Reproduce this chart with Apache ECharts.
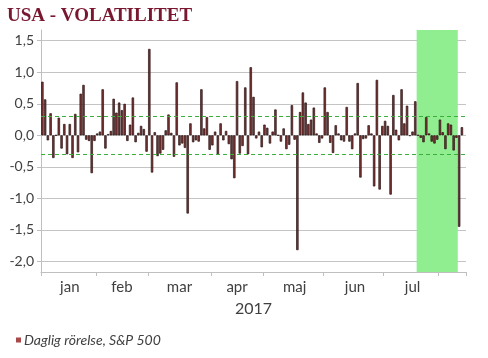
<!DOCTYPE html>
<html>
<head>
<meta charset="utf-8">
<script src="https://cdn.jsdelivr.net/npm/echarts@6/dist/echarts.min.js"></script>
<style>
html,body{margin:0;padding:0;background:#fff;}
#chart{width:488px;height:358px;}
</style>
</head>
<body>
<div id="chart"></div>
<script>
// ---- data (daily change in %, S&P 500, 2017) ----
const monthNames = ['jan', 'feb', 'mar', 'apr', 'maj', 'jun', 'jul', 'aug'];
const monthLabelShown = [true, true, true, true, true, true, true, false];

const janDays = [3,4,5,6,9,10,11,12,13,17,18,19,20,23,24,25,26,27,30,31];
const janVals = [0.85,0.57,-0.08,0.35,-0.36,0.00,0.28,-0.21,0.18,-0.30,0.18,-0.36,0.34,-0.27,0.66,0.80,-0.07,-0.09,-0.60,-0.09];

const febDays = [1,2,3,6,7,8,9,10,13,14,15,16,17,21,22,23,24,27,28];
const febVals = [0.03,0.06,0.73,-0.21,0.02,0.07,0.58,0.36,0.52,0.40,0.50,-0.09,0.17,0.60,-0.11,0.04,0.15,0.10,-0.26];

const marDays = [1,2,3,6,7,8,9,10,13,14,15,16,17,20,21,22,23,24,27,28,29,30,31];
const marVals = [1.37,-0.59,0.05,-0.33,-0.29,-0.23,0.08,0.33,0.04,-0.34,0.84,-0.16,-0.13,-0.20,-1.24,0.19,-0.11,-0.08,-0.10,0.73,0.11,0.29,-0.23];

const aprDays = [3,4,5,6,7,10,11,12,13,17,18,19,20,21,24,25,26,27,28];
const aprVals = [-0.16,0.06,-0.31,0.19,-0.08,0.07,-0.14,-0.38,-0.68,0.86,-0.29,-0.17,0.76,-0.30,1.08,0.61,-0.05,0.06,-0.19];

const majDays = [1,2,3,4,5,8,9,10,11,12,15,16,17,18,19,22,23,24,25,26,30,31];
const majVals = [0.17,0.12,-0.13,0.06,0.41,0.00,-0.10,0.11,-0.22,-0.15,0.48,-0.07,-1.82,0.37,0.68,0.52,0.18,0.25,0.44,0.03,-0.12,-0.05];

const junDays = [1,2,5,6,7,8,9,12,13,14,15,16,19,20,21,22,23,26,27,28,29,30];
const junVals = [0.76,0.37,-0.12,-0.28,0.16,0.03,-0.08,-0.10,0.45,-0.10,-0.22,0.03,0.83,-0.67,-0.06,-0.05,0.16,0.03,-0.81,0.88,-0.86,0.15];

const julDays = [3,5,6,7,10,11,12,13,14,17,18,19,20,21,24,25,26,27,28,31];
const julVals = [0.23,0.15,-0.94,0.64,0.09,-0.08,0.73,0.19,0.47,-0.01,0.06,0.54,0.00,-0.04,-0.11,0.29,0.03,-0.10,-0.13,-0.07];

const augDays = [1,2,3,4,7,8,9,10,11,14];
const augVals = [0.25,0.05,-0.22,0.19,0.17,-0.24,-0.04,-1.45,0.13,null];

// highlighted period (green band) and +/- reference levels
const highlightFrom = '2017-07-20';
const highlightTo = '2017-08-09';
const refLevels = [0.3, -0.3];

const yearLabel = '2017';
const seriesName = 'Daglig rörelse, S&P 500';
const titleText = 'USA - VOLATILITET';

// ---- build category table ----
const monthDays = [janDays, febDays, marDays, aprDays, majDays, junDays, julDays, augDays];
const monthVals = [janVals, febVals, marVals, aprVals, majVals, junVals, julVals, augVals];
const categories = [];
const values = [];
const monthStart = {};   // index -> true at first trading day of month
const labelAt = {};      // index -> month label
monthDays.forEach(function (days, m) {
  const start = categories.length;
  monthStart[start] = true;
  days.forEach(function (d, i) {
    const mm = String(m + 1).padStart(2, '0');
    const dd = String(d).padStart(2, '0');
    categories.push('2017-' + mm + '-' + dd);
    values.push(monthVals[m][i]);
  });
  if (monthLabelShown[m]) {
    labelAt[start + Math.floor(days.length / 2)] = monthNames[m];
  }
});
const hiStart = categories.indexOf(highlightFrom);
const hiEnd = categories.indexOf(highlightTo) + 1;

const FONT = 'Lato, "Open Sans", sans-serif';
const chart = echarts.init(document.getElementById('chart'), null, {renderer: 'canvas'});
chart.setOption({
  animation: false,
  backgroundColor: '#ffffff',
  title: {
    text: titleText,
    left: 7, top: 7, padding: 0,
    textStyle: {fontFamily: '"Liberation Serif", "Times New Roman", serif', fontWeight: 'bold', fontSize: 19, color: '#7a1730'}
  },
  legend: {
    data: [seriesName],
    left: 11, top: 328,
    itemWidth: 5, itemHeight: 5, icon: 'rect',
    itemStyle: {color: '#a84848', borderWidth: 0},
    textStyle: {fontFamily: FONT, fontStyle: 'italic', fontSize: 14, color: '#404040', padding: [0, 0, 0, -2]}
  },
  grid: {left: 41, right: 22, top: 30, bottom: 86, containLabel: false},
  xAxis: [{
    type: 'category',
    data: categories,
    boundaryGap: true,
    axisLine: {show: true, onZero: false, lineStyle: {color: '#bfbfbf', width: 1}},
    axisTick: {
      show: true, length: 4, lineStyle: {color: '#bfbfbf'},
      interval: function (idx) { return !!monthStart[idx]; }
    },
    axisLabel: {
      interval: function (idx) { return labelAt[idx] !== undefined; },
      formatter: function (v, idx) { return labelAt[idx] || ''; },
      fontFamily: FONT, fontSize: 15, color: '#404040', margin: 8
    },
    splitLine: {show: false},
    name: yearLabel,
    nameLocation: 'middle',
    nameGap: 29,
    nameTextStyle: {fontFamily: FONT, fontSize: 16, color: '#404040'}
  }, {
    type: 'value',
    min: 0, max: categories.length,
    show: false
  }],
  yAxis: {
    type: 'value',
    min: -2.167, max: 1.67,
    minInterval: 0.5, maxInterval: 0.5,
    axisLine: {show: true, lineStyle: {color: '#bfbfbf'}},
    axisTick: {show: true, length: 4, lineStyle: {color: '#bfbfbf'}},
    axisLabel: {
      showMinLabel: false, showMaxLabel: false,
      formatter: function (v) { return v.toFixed(1).replace('.', ','); },
      fontFamily: FONT, fontSize: 14, color: '#404040', margin: 7
    },
    splitLine: {show: true, showMinLine: false, showMaxLine: false, lineStyle: {color: '#c4c4c4', width: 1}}
  },
  series: [{
    name: 'shade',
    type: 'line',
    xAxisIndex: 1,
    data: [],
    z: 1,
    silent: true,
    markArea: {
      silent: true,
      itemStyle: {color: '#90ee90', opacity: 1},
      data: [[{xAxis: hiStart}, {xAxis: hiEnd}]]
    }
  }, {
    name: seriesName,
    type: 'bar',
    data: values,
    z: 3,
    barCategoryGap: '12%',
    itemStyle: {color: '#7a3434', borderColor: '#2a1212', borderWidth: 0.7},
    markLine: {
      silent: true,
      symbol: 'none',
      label: {show: false},
      lineStyle: {color: '#3cae3c', type: [4, 3], width: 1.2},
      data: refLevels.map(function (v) { return {yAxis: v}; })
    }
  }]
});
</script>
</body>
</html>
